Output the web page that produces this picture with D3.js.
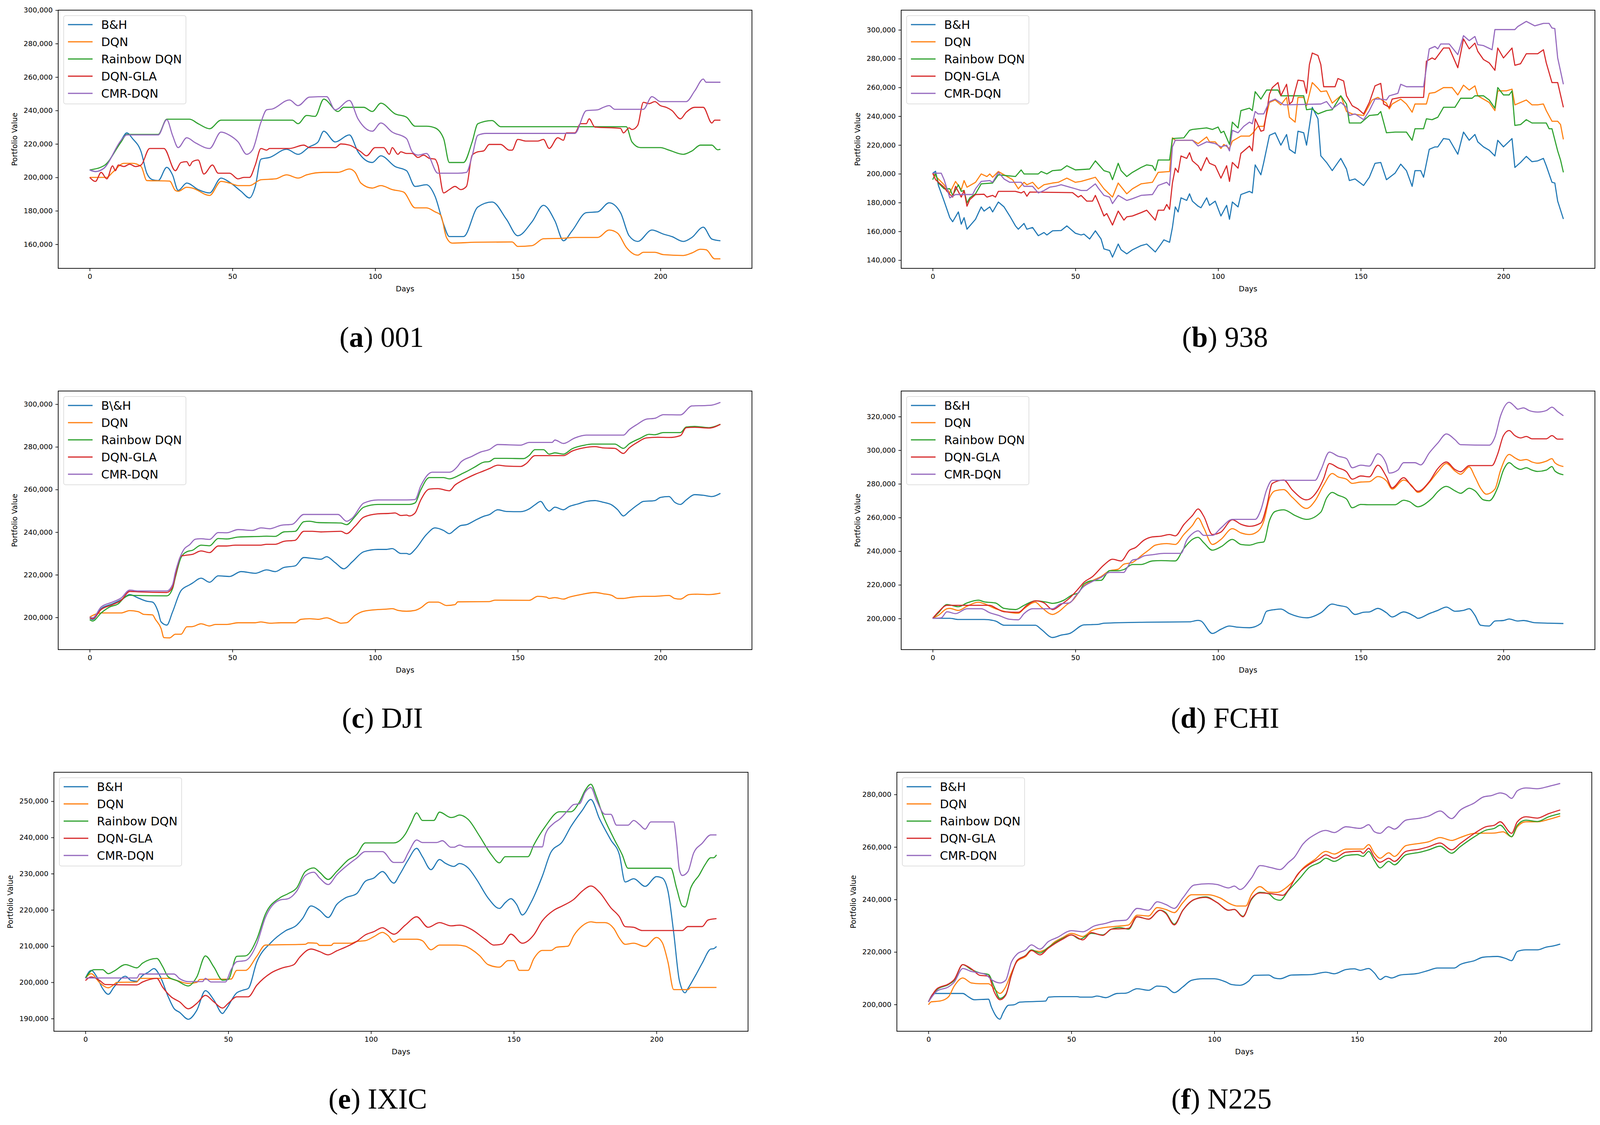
<!DOCTYPE html>
<html>
<head>
<meta charset="utf-8">
<script src="https://cdn.jsdelivr.net/npm/d3@7"></script>
<style>
  body { margin: 0; background: #fff; }
</style>
</head>
<body>
<script>
// series order is the legend order
const seriesNames = ["B&H", "DQN", "Rainbow DQN", "DQN-GLA", "CMR-DQN"];
const seriesNamesDJI = ["B\\&H", "DQN", "Rainbow DQN", "DQN-GLA", "CMR-DQN"];
const colors = ["#1f77b4", "#ff7f0e", "#2ca02c", "#d62728", "#9467bd"];
const xTicks = [0, 50, 100, 150, 200];

// values are [day, portfolio value in thousands]
// (a) 001
const a_bh = [[0,204.5],[2,203.5],[5,205.5],[8,213.3],[11,222.2],[13,226.6],[15,223.2],[18,215.3],[20,202.5],[22,198.6],[24,198.1],[27,206],[29,201.5],[31,192.2],[34,196.6],[38,192.7],[42,190.7],[46,199.6],[49,197.1],[53,191.7],[56,187.7],[58,194.6],[60,210.9],[63,211.9],[69,216.8],[73,213.8],[77,218.3],[80,221.2],[82,227.6],[86,221.2],[91,225.4],[94,215.3],[99,208.9],[102,212.9],[107,206.5],[111,204],[114,194.6],[118,195.6],[121,188.7],[124,172],[126,164.6],[131,164.6],[136,182.3],[141,185.3],[146,175],[150,165.1],[155,173.5],[159,183.3],[163,174],[166,162.1],[169,168],[174,178.9],[178,179.4],[182,184.8],[186,178.9],[189,165.1],[192,161.7],[197,168.5],[201,166.1],[204,164.6],[208,161.7],[211,164.1],[215,170.2],[218,163.1],[221,162.1]];
const a_dqn = [[0,200],[6,200],[8,203],[12,208.4],[15,208.4],[18,206.5],[20,198.1],[28,197.8],[30,192.2],[31,191.7],[34,194.1],[36,193.6],[42,189.2],[46,197.6],[49,196.6],[52,195.1],[56,195.1],[60,198.6],[65,199.1],[69,201.5],[73,199.6],[76,201.5],[82,203],[87,203],[91,205],[93,203],[95,196.6],[99,193.6],[102,195.1],[106,192.7],[110,191.2],[114,181.8],[118,181.8],[121,179.4],[123,177.4],[125,164.1],[127,160.7],[135,161.2],[148,161.4],[150,158.7],[155,159.2],[159,163.3],[166,163.6],[170,164.1],[178,164.1],[182,168.5],[185,166.6],[188,158.2],[192,153.5],[194,155.2],[198,155.2],[201,153.8],[208,153.3],[211,154.8],[214,157],[216,156.7],[219,151.3],[221,151.3]];
const a_rb = [[0,204.5],[5,207],[11,221.2],[13,225.7],[24,225.7],[27,234.8],[35,234.8],[38,232.1],[42,229.1],[46,234.2],[71,234.2],[73,232.1],[76,237],[79,236.5],[82,246.8],[87,239.4],[89,241.9],[96,241.9],[99,239.4],[102,244.4],[107,238],[111,236],[114,230.6],[118,230.6],[121,229.6],[124,223.2],[126,208.9],[131,208.9],[134,221.2],[136,232.1],[141,234],[144,230.3],[188,230.3],[190,221.2],[193,217.8],[200,217.8],[203,216.3],[208,213.8],[211,215.8],[214,219.3],[218,219.3],[220,216.5],[221,216.8]];
const a_gla = [[0,200],[2,197.6],[4,203],[6,199.1],[8,206.9],[9,204],[10,207.4],[12,206.5],[14,207.9],[16,206.5],[18,207.4],[21,217.3],[26,217.3],[30,204],[32,208.9],[34,209.4],[35,206.9],[36,209.4],[38,210.4],[40,202],[43,207.4],[45,202.5],[49,202.5],[52,199.1],[54,200],[56,200],[58,207.4],[60,217.3],[62,216.3],[63,217.3],[70,217.3],[75,219.3],[77,217.8],[86,217.8],[88,220],[91,219.3],[95,215.3],[97,212.9],[100,217.8],[103,217.8],[105,213.8],[106,217.8],[108,213.8],[109,215.3],[111,214.3],[113,214.3],[115,211.9],[117,213.3],[119,211.4],[121,210.9],[122,207.4],[124,190.7],[126,192.7],[128,194.6],[130,192.7],[132,194.6],[134,213.3],[136,215.3],[138,215.8],[140,219.7],[144,219.7],[147,216.3],[148,216.3],[150,222.7],[153,221.7],[157,221.7],[159,222.7],[161,217.3],[164,223.7],[166,222.2],[167,226.6],[170,226.6],[172,232.1],[174,232.1],[175,235],[177,230.1],[186,229.3],[187,226.6],[189,229.6],[190,228.6],[192,231.1],[194,244.9],[196,244.1],[198,245.3],[200,242.9],[202,241.9],[204,240],[207,235],[209,238.9],[212,241.9],[215,241.9],[218,232.5],[219,234.2],[221,234.2]];
const a_cmr = [[0,204.5],[2,203.5],[5,205.5],[11,222.2],[13,225.4],[24,225.4],[27,234.5],[29,225.2],[31,217.8],[34,223.7],[37,220.7],[42,217.3],[46,227.1],[49,225.2],[52,221.2],[55,213.8],[57,216.3],[60,233],[62,240.4],[64,240.9],[70,246.3],[73,242.9],[77,248],[83,248.3],[86,240.4],[91,246],[94,235],[99,227.6],[102,232.5],[106,227.1],[111,223.2],[113,215.3],[115,213.3],[118,214.3],[122,202.5],[129,202.5],[132,203],[134,212.9],[136,225.2],[139,226.3],[170,226.3],[174,239.9],[178,240.4],[180,241.9],[182,242.9],[184,240.7],[194,240.7],[197,248.3],[200,245.3],[209,245.3],[212,251.7],[215,258.8],[216,256.9],[221,256.9]];
const a_yTicks = [160, 180, 200, 220, 240, 260, 280, 300];

// (b) 938
const b_bh = [[0,200.4],[1,201.8],[2,191.9],[4,181],[6,169.5],[7,166.7],[9,173.5],[10,165],[11,169.5],[12,161.5],[15,168.4],[17,177],[18,174.1],[20,177],[21,173.5],[23,180.4],[25,177],[27,170.7],[29,163.8],[30,161.5],[32,165.5],[33,161.5],[35,162.7],[37,157],[39,159.2],[40,157.5],[42,160.4],[45,160.6],[47,163.8],[50,158.7],[52,157.5],[53,158.1],[55,154.7],[57,160.4],[59,154.7],[60,147.8],[62,146.7],[63,142.1],[65,151.2],[66,147.2],[68,144.4],[70,147.2],[73,150.1],[75,151.2],[78,145.7],[80,151.2],[81,154.1],[83,152.4],[84,162.7],[85,177],[86,173.5],[87,183.3],[89,181.5],[90,186.1],[91,181],[93,177.5],[94,176.4],[96,183.3],[97,178.1],[99,181],[101,170.7],[103,178.1],[104,168.4],[105,180.4],[107,177],[108,185.6],[111,187.8],[112,186.7],[113,206.2],[115,199.3],[116,207.9],[118,226.7],[120,228.5],[122,219.9],[124,227.3],[125,217],[127,214.2],[128,229.6],[130,228.5],[131,219.9],[133,246.2],[135,238.2],[136,212.5],[138,207.9],[140,202.2],[143,210.7],[145,203.3],[146,195.3],[148,196.4],[151,191.9],[153,197.6],[155,207.3],[157,207.9],[159,195.9],[162,200.4],[164,206.7],[166,202.2],[168,191.3],[169,202.2],[171,202.2],[172,197.6],[174,217],[176,218.7],[177,218.7],[179,224.5],[181,223.9],[184,213.6],[186,229],[188,223.3],[190,227.3],[191,222.2],[193,218.7],[195,216.4],[197,212.4],[198,223.3],[200,218.7],[203,224.5],[204,204.4],[206,207.9],[208,212.1],[210,208.4],[212,209],[214,210.7],[215,205.6],[217,194.1],[218,193.6],[219,181],[221,168.6]];
const b_dqn = [[0,200.4],[4,192.4],[6,186.7],[8,194.7],[10,189],[11,195.3],[12,190.7],[15,194.1],[17,199.9],[19,198.1],[20,199.9],[21,197.6],[23,201.6],[25,199.3],[28,195.9],[30,189.6],[32,194.1],[33,192.4],[35,194.1],[37,189.6],[39,192.4],[42,193.6],[44,194.1],[47,197],[50,194.1],[52,194.7],[56,197],[57,197.6],[60,189.6],[63,183.8],[65,193.6],[68,186.1],[70,189.6],[73,193],[77,194.1],[79,201],[83,201.6],[84,225],[85,223.3],[91,223.3],[93,221],[96,225.6],[97,222.2],[99,222.2],[101,217.6],[102,220.4],[104,217.6],[105,222.7],[108,226.2],[111,226.2],[112,227.9],[114,233],[116,233],[118,249.6],[120,251.3],[122,247.9],[124,253.1],[125,239.3],[127,235.9],[128,253.1],[130,253.1],[131,247.3],[133,263.4],[135,259.4],[136,257.1],[138,257.6],[140,249.1],[143,254.2],[145,243.3],[147,241.6],[151,240.5],[154,251.3],[156,253.1],[159,249.1],[160,245.1],[161,248.5],[164,251.9],[166,248.5],[168,242.8],[169,248.5],[173,248.5],[174,255.9],[176,256.5],[179,259.9],[182,259.9],[184,254.8],[186,261.6],[188,258.2],[190,261.1],[191,254.2],[193,251.9],[195,249.6],[197,243.9],[198,257.6],[201,257.6],[203,258.8],[204,247.9],[206,249.6],[208,251.3],[210,247.9],[212,247.9],[214,248.5],[215,243.9],[217,236.5],[219,236.5],[220,234.2],[221,223.9]];
const b_rb = [[0,195.9],[1,200.4],[2,193.6],[4,189.6],[6,189.6],[7,185],[9,192.4],[10,187.8],[11,188.4],[12,179.8],[13,183.3],[15,186.1],[17,193],[21,193.6],[23,199.3],[29,198.1],[31,202.7],[32,199.9],[37,199.9],[38,201.6],[40,199.9],[42,202.2],[45,202.7],[47,205.6],[50,202.7],[55,203.3],[57,209],[58,206.7],[60,202.2],[62,201],[63,195.9],[65,207.3],[66,202.2],[68,198.1],[70,201],[73,204.4],[75,206.2],[77,205.6],[78,202.2],[79,209.6],[83,209.6],[84,224.5],[88,225],[90,230.2],[91,230.8],[96,231.9],[98,230.8],[100,232.5],[101,228.5],[102,229.6],[104,220.4],[105,235.9],[107,231.9],[108,243.9],[111,245.6],[112,243.9],[113,257.1],[115,251.9],[117,258.2],[121,258.2],[122,254.2],[130,254.2],[131,244.5],[133,245.1],[135,241.6],[138,243.9],[140,244.5],[143,254.2],[145,248.5],[146,235.3],[150,235.3],[153,240.5],[156,241.1],[157,243.3],[159,228.5],[162,229],[166,229],[168,223.3],[169,231.3],[172,231.3],[173,238.2],[175,237.6],[177,239.3],[179,246.2],[183,246.2],[185,252.5],[189,252.5],[190,254.2],[193,254.2],[195,251.3],[197,245.6],[198,259.9],[200,254.8],[202,254.8],[203,257.6],[204,233.6],[206,234.2],[208,237.6],[210,235.3],[215,235.3],[216,231.3],[217,231.3],[219,215.9],[220,209.6],[221,201]];
const b_gla = [[0,200.4],[1,195.9],[4,190.7],[5,187.8],[7,183.8],[8,191.3],[10,183.8],[11,188.4],[12,177.5],[13,182.1],[15,185.6],[18,185.8],[19,183.8],[21,185],[22,183.8],[23,187.8],[29,187.8],[31,186.7],[32,187.8],[33,184.4],[34,187.3],[49,186.9],[51,183.8],[52,185],[54,181],[56,181],[57,185],[58,180.4],[60,170.7],[61,172.4],[63,164.4],[65,174.1],[67,167.8],[68,170.1],[70,170.7],[73,173],[75,174.7],[78,167.8],[79,174.7],[81,174.7],[82,178.7],[83,175.3],[84,193.6],[85,203.9],[86,201],[87,212.4],[89,210.7],[90,214.7],[91,209],[93,205.6],[94,202.2],[96,211.3],[97,207.3],[99,205.6],[101,197],[103,205.6],[104,194.7],[105,207.9],[107,203.9],[108,214.2],[111,219.3],[112,215.9],[113,238.2],[115,229.6],[116,230.2],[118,255.3],[119,259.9],[121,263.4],[122,254.2],[124,262.2],[125,248.5],[126,250.2],[128,265.1],[130,264.5],[131,255.9],[132,275.9],[133,283.9],[135,282.2],[136,275.9],[137,260.5],[141,260.5],[142,266.2],[144,264.5],[145,254.2],[147,247.3],[149,245.1],[151,241.6],[153,249.6],[155,261.1],[157,262.8],[158,248.5],[160,246.2],[161,251.9],[164,253.1],[172,253.1],[173,278.2],[175,280.5],[176,279.4],[179,287.4],[181,287.4],[184,273.7],[186,293.7],[188,286.8],[190,290.8],[191,285.1],[193,279.4],[195,277.1],[197,271.9],[198,287.4],[200,280.5],[203,287.4],[204,275.4],[206,276.5],[208,283.4],[212,283.4],[214,286.2],[215,277.1],[217,263.4],[219,263.4],[221,246.2]];
const b_cmr = [[0,200.4],[3,200.4],[4,195.9],[6,183.3],[8,185.6],[14,185.6],[15,189.6],[17,194.7],[20,195.3],[21,194.1],[23,201],[25,196.4],[27,194.1],[31,194.1],[32,191.3],[35,191.3],[37,186.7],[39,188.4],[41,190.7],[43,191.3],[45,192.4],[48,190.7],[50,189.6],[52,188.4],[54,188.4],[57,193],[58,190.1],[60,185],[62,183.8],[63,179.3],[65,185],[68,181.5],[70,182.7],[73,185],[77,185.6],[79,191.9],[82,194.1],[83,191.9],[84,218.7],[85,223.3],[91,223.3],[93,219.3],[96,222.2],[99,221],[101,218.7],[103,219.9],[104,215.9],[105,230.2],[107,228.5],[109,233],[111,235.9],[112,234.8],[113,243.3],[114,241.6],[116,241.6],[118,250.2],[120,251.9],[123,247.9],[136,248.5],[138,250.2],[140,245.1],[143,249.6],[145,246.2],[146,240.5],[148,241.6],[151,237.6],[153,243.9],[155,251.9],[157,251.9],[159,251.3],[160,254.2],[162,255.3],[163,255.9],[164,262.2],[166,260.5],[172,260.5],[174,286.8],[176,288.5],[177,286.8],[178,290.2],[181,290.2],[184,282.8],[186,296],[188,292.5],[190,295.4],[191,289.7],[193,289.1],[196,286.2],[197,300.2],[204,300.2],[205,302.3],[208,305.9],[211,302.8],[214,304.5],[216,304.5],[217,301.3],[218,300.9],[219,280.5],[221,262.2]];
const b_yTicks = [140, 160, 180, 200, 220, 240, 260, 280, 300];

// (c) DJI
const c_bh = [[0,199.8],[1,199],[4,204.1],[8,206.4],[11,208.3],[14,210.7],[17,209.1],[20,207.6],[22,207.2],[24,202.5],[25,197.9],[27,196.4],[29,202.5],[32,212.6],[35,215.3],[36,216.1],[39,218.4],[42,216.5],[45,219.5],[49,219.2],[53,221.5],[58,220.7],[62,222.3],[65,221.5],[68,223.4],[72,224.2],[75,228.1],[78,227.7],[81,227.3],[83,228.5],[86,225.7],[89,222.8],[92,226.1],[96,230.8],[101,231.9],[104,231.9],[106,232.3],[109,230],[111,230],[112,229.6],[114,231.9],[118,238.9],[121,242],[124,240.8],[126,239.3],[128,241.2],[130,243.1],[132,243.5],[135,245.5],[138,247.4],[140,248.2],[143,250.5],[146,249.7],[151,249.6],[154,250.9],[156,252.8],[158,254.4],[160,250.9],[161,249.9],[163,251.7],[166,250.5],[168,252],[171,253.2],[174,254.4],[177,254.8],[180,254],[183,252.7],[185,250.5],[187,247.6],[189,249.7],[192,252.8],[194,254.4],[198,254.8],[200,256.3],[203,256.7],[205,254],[207,253],[209,255.1],[212,257.6],[215,257.3],[218,256.7],[221,258.2]];
const c_dqn = [[0,200.2],[4,202.1],[11,202.1],[14,203.2],[17,202.7],[19,201.4],[22,201.2],[23,199.1],[25,194.8],[26,190.5],[28,190.4],[30,192.1],[32,192.1],[34,195.6],[36,195.7],[39,197],[42,196],[44,196.7],[48,196.7],[52,197.5],[58,197.5],[60,197.9],[63,197.3],[67,197.5],[72,197.5],[74,199.1],[77,199.4],[80,199.1],[83,199.8],[86,198.3],[88,197.3],[90,197.5],[93,201],[96,202.9],[101,203.7],[104,203.9],[106,204.1],[108,203.3],[111,202.9],[114,203.3],[116,204.5],[119,207.2],[122,207.2],[125,205.6],[128,206],[129,207.3],[140,207.4],[142,208.1],[154,208],[157,209.9],[160,209.5],[161,208.9],[163,209.3],[166,208.6],[168,209.5],[172,210.7],[177,211.7],[180,211.1],[183,210.3],[185,208.9],[187,208.9],[190,209.5],[194,209.9],[198,209.9],[203,210.3],[205,208.9],[207,208.6],[210,210.7],[213,210.9],[217,210.7],[221,211.4]];
const c_rb = [[0,199],[1,198.3],[4,202.1],[7,204.9],[10,206.4],[12,209.1],[14,210.4],[16,210.3],[27,210.1],[29,213.4],[30,218.8],[32,228.1],[34,230.8],[36,231.5],[39,233.9],[42,233.6],[45,237],[48,236.8],[52,237.7],[60,238],[62,238.1],[65,238],[68,240.1],[72,240.4],[75,244.9],[77,245.1],[80,244.5],[88,244.3],[90,243.5],[93,247.4],[96,251.7],[101,253],[112,253],[114,253.7],[116,259.8],[119,265.6],[124,265.6],[126,265],[129,266.4],[130,267.1],[132,268.4],[135,270.6],[138,272.8],[140,273.1],[142,274.6],[146,274.6],[152,274.5],[154,276],[156,278.7],[159,278.7],[161,276.6],[163,277.2],[166,276.6],[169,279.1],[173,280.7],[176,281.3],[184,281.3],[187,279.3],[189,281.4],[193,284.1],[196,285.9],[198,285.7],[201,286.7],[207,286.7],[209,289.3],[212,289.6],[217,289],[221,290.6]];
const c_gla = [[0,199.8],[1,199.4],[4,203.7],[8,206],[11,208],[14,212.2],[17,212],[27,211.7],[29,214.1],[30,219.6],[32,228.8],[34,229.2],[36,229.6],[39,231.2],[42,230.4],[45,233.5],[48,233.5],[51,233.9],[60,233.9],[62,234.3],[65,234.3],[68,235.7],[72,236.2],[75,240.4],[78,240.4],[81,240.1],[88,240.4],[90,239.3],[93,242.8],[96,247],[101,248.6],[105,248.8],[107,249],[109,247.8],[111,248],[112,247.6],[114,249],[116,255.1],[119,260.2],[122,260.4],[126,259.4],[128,262.1],[130,263.8],[132,265.2],[135,267.1],[138,268.7],[140,269.8],[143,271.4],[146,271],[151,270.8],[153,272.2],[156,275.9],[166,275.9],[169,278],[173,279.5],[177,280.1],[180,279.5],[184,279.3],[187,276.9],[189,279.5],[192,282.2],[195,284.2],[199,284.5],[203,284.4],[207,285.3],[209,289],[212,289.2],[217,288.8],[221,290.6]];
const c_cmr = [[0,200.2],[1,199.8],[4,204.9],[8,207.2],[11,209.1],[14,212.8],[17,212.4],[27,212.4],[29,215.3],[30,221.1],[33,231.9],[35,234.1],[37,236.7],[39,236.9],[42,236.6],[45,239.8],[48,239.7],[52,241.2],[57,240.8],[60,242],[63,241.6],[67,243.2],[71,243.7],[75,248.3],[87,248.3],[90,245.1],[92,246.6],[96,253.6],[101,255.1],[111,255.1],[114,255.3],[116,261.7],[120,268.1],[126,268.1],[129,271],[130,272.8],[134,275.6],[137,277.6],[140,278.7],[143,281.1],[151,280.8],[154,282.1],[162,282.1],[163,283.2],[166,281.6],[170,284.2],[174,285.5],[187,285.5],[189,288],[192,290.7],[195,293],[198,293.4],[201,295.1],[207,295],[211,299.2],[216,299.4],[218,299.6],[221,300.9]];
const c_yTicks = [200, 220, 240, 260, 280, 300];

// (d) FCHI
const d_bh = [[0,200.1],[6,200.1],[9,199.4],[18,199.4],[22,198.5],[25,196],[36,196],[38,193.6],[42,188.7],[45,190.1],[48,191.1],[53,196.2],[58,196.5],[60,197.2],[75,197.8],[90,198],[93,198.9],[94,198.5],[98,191.1],[101,193.6],[104,195.5],[107,194.8],[111,194.5],[115,197],[117,204.3],[120,205.3],[122,205.6],[125,202.9],[131,200.4],[136,203.4],[140,208.6],[142,207.8],[145,206.8],[148,202.4],[151,203.7],[153,203.9],[156,206],[159,203.4],[161,200.9],[165,203.9],[169,201.1],[170,200.1],[174,202.9],[177,204.8],[180,206.8],[183,204.3],[186,204.8],[188,205.8],[190,201.9],[192,196],[195,195.5],[197,198.5],[200,198.8],[202,199.7],[205,198.5],[207,198.8],[211,197.5],[216,197.2],[221,197]];
const d_dqn = [[0,200.1],[2,201.9],[5,205.8],[6,206],[9,204.8],[12,207.3],[16,209.7],[18,208.8],[22,205.8],[26,203.9],[30,203.1],[32,205.8],[36,209.7],[38,206.8],[42,202.4],[44,203.9],[47,208.2],[49,210.7],[53,219.5],[56,222.5],[59,224.9],[62,228.4],[65,229.3],[67,232.3],[70,233.3],[73,237.2],[76,241.1],[78,243.6],[82,244.5],[85,244],[88,249.9],[91,255.3],[93,259.7],[95,253.8],[98,244],[101,247],[105,253.4],[108,250.9],[111,249.9],[114,251.9],[116,257.8],[118,271.5],[120,275.9],[123,276.6],[126,272],[131,265.4],[134,270],[137,279.3],[140,286.2],[142,284.2],[145,282.8],[147,280.3],[150,281.1],[153,281.3],[156,284.4],[159,281.8],[161,276.9],[165,282.3],[168,278.8],[170,274.9],[174,280.8],[177,287.2],[180,292.1],[183,287.7],[185,285.7],[188,290.1],[190,284.2],[192,277.4],[194,273.9],[197,276.9],[199,288.2],[202,297.5],[204,295.5],[206,294],[208,294.5],[210,293],[212,292.3],[215,293.5],[217,295],[218,292.6],[221,290.3]];
const d_rb = [[0,200.1],[2,203.4],[5,208.3],[9,207],[12,209.2],[16,210.9],[18,209.9],[22,209.2],[25,206],[29,205.3],[32,207.8],[36,210.5],[40,209.7],[42,209],[46,210.9],[49,214.1],[51,215.1],[53,220.5],[56,222.5],[59,222.7],[62,228.4],[65,228.4],[67,229.1],[70,232.1],[73,232.1],[77,234.2],[80,234.4],[85,234.2],[88,241.6],[91,247],[93,248.2],[95,245],[98,240.6],[101,242.6],[105,247],[108,244],[111,243.6],[114,245],[116,245.5],[118,258.2],[120,263.6],[123,264.6],[127,261.2],[131,258.9],[136,263.2],[138,271.5],[140,274.9],[142,273.3],[145,271],[147,265.8],[150,267.8],[153,267.6],[162,267.6],[165,270.3],[167,269.5],[170,266.4],[174,270],[175,271.5],[177,275.4],[180,278.5],[183,275.9],[185,274.4],[188,277.4],[190,275.9],[193,270.5],[195,270],[198,277.9],[200,288.2],[202,292.6],[204,290.1],[206,288.6],[208,289.6],[210,288.2],[212,287.4],[215,288.2],[217,290.3],[218,287.7],[221,285.4]];
const d_gla = [[0,200.1],[2,203.9],[5,207.8],[20,207.8],[22,206.3],[25,204],[30,203.7],[33,207.8],[36,210.5],[39,209.3],[42,205.3],[45,208.3],[48,212.2],[51,217.6],[53,221.5],[56,224.9],[60,231.8],[63,235.2],[66,234.2],[69,240.6],[71,242.1],[74,246.5],[77,248.5],[80,248.9],[83,249.9],[85,249.1],[88,255.8],[91,261.2],[93,265.1],[95,260.7],[98,249.9],[101,251.4],[105,258.7],[108,256],[111,254.8],[115,256.8],[117,266.6],[119,280.3],[123,282.3],[126,276.4],[131,270.5],[135,276.4],[137,283.2],[139,292.1],[142,289.6],[145,287.2],[147,282.8],[150,284.7],[153,284.2],[156,291.1],[159,284.2],[161,277.6],[165,283.7],[168,278.3],[170,275.6],[174,281.3],[177,289.1],[180,293],[183,288.6],[185,287.2],[188,290.9],[196,290.9],[198,297.9],[200,308.7],[202,311.7],[204,308.7],[206,307.3],[208,308.2],[210,306.8],[215,306.8],[217,308.7],[219,306.6],[221,306.6]];
const d_cmr = [[0,200.1],[3,200.4],[5,204],[8,202.9],[12,205.8],[17,205.8],[20,203.4],[23,201.9],[27,199.5],[30,199.2],[32,202.9],[35,205.8],[42,205.8],[45,208.8],[48,209.3],[50,213.2],[53,219.1],[56,222],[59,224.4],[62,227.4],[67,227.4],[68,229.8],[70,234.7],[72,235.4],[74,237.2],[77,237.9],[81,238.7],[87,238.7],[89,246.5],[91,250.4],[93,252.1],[95,249.4],[98,249.4],[101,253.8],[105,258.9],[113,258.9],[115,264.6],[117,276.4],[119,282.1],[134,282.1],[136,288.2],[139,298.9],[142,296.5],[145,295],[147,289.6],[150,291.1],[153,290.6],[156,297.9],[159,291.6],[160,286.4],[163,288.2],[165,292.6],[169,292.6],[171,291.3],[174,298.4],[177,304.3],[180,309.7],[183,306.3],[185,303.3],[195,303],[197,307.8],[199,320.5],[202,328.5],[204,325.9],[205,324.4],[207,325.2],[209,323.6],[212,322.7],[215,323.6],[217,325.6],[219,322.9],[221,320.5]];
const d_yTicks = [200, 220, 240, 260, 280, 300, 320];

// (e) IXIC
const e_bh = [[0,201.2],[2,203.3],[4,201.5],[6,198.3],[8,196.7],[10,198.7],[14,201.7],[16,200.5],[18,200.3],[20,201.9],[22,202.8],[24,203.8],[26,201.9],[29,196],[31,192.8],[33,191.7],[36,189.8],[39,192.3],[42,197.7],[45,195.1],[48,191.4],[49,192.3],[53,197.1],[55,197.8],[57,198.3],[60,205.6],[65,211],[70,214.2],[74,215.8],[76,217.6],[79,221.1],[82,219.9],[85,217.9],[88,221.5],[91,223.3],[95,224.5],[98,227.9],[101,228.8],[104,230.6],[108,227.4],[110,229.7],[113,233.8],[116,237],[118,234.7],[121,231.1],[124,233.9],[126,232.9],[129,232],[131,232.8],[134,231.6],[137,228.4],[141,223.3],[145,220.4],[147,222],[149,223.1],[151,221.5],[153,218.6],[156,222],[160,229.3],[163,235.9],[167,238.8],[170,243],[174,247.5],[177,250.5],[180,245.2],[184,239.3],[187,235.2],[189,227.7],[192,228.6],[196,226.5],[200,229.2],[202,228.8],[204,225.2],[206,213.8],[208,200.5],[210,197.1],[211,198.3],[214,202.4],[216,205.3],[219,209.2],[220,209.3],[221,209.9]];
const e_dqn = [[0,201.2],[2,202.4],[5,199.9],[8,198.5],[10,199.4],[11,200],[18,200.1],[19,201.1],[29,201.1],[32,200.5],[36,199.7],[39,200],[40,200.8],[51,200.9],[53,203.3],[56,203.3],[60,207.2],[63,210.3],[77,210.5],[78,210.9],[81,210.8],[82,210.2],[86,210.2],[87,210.8],[93,210.8],[95,211.3],[98,211.5],[101,212.6],[104,213.8],[106,212.9],[108,211.1],[110,211.9],[116,211.9],[118,211.5],[121,209],[124,210.3],[130,210.3],[133,210],[135,209.2],[138,207.4],[141,204.9],[145,204.2],[148,206],[150,206],[152,203.3],[155,203.3],[157,206.5],[160,208.8],[163,208.8],[165,209.7],[169,210],[171,212.9],[174,215.6],[177,216.7],[179,216.5],[182,216.5],[185,214.9],[187,212.2],[189,210.5],[192,210.8],[196,209.9],[200,212.4],[202,211],[204,205.6],[206,198],[211,198],[212,198.6],[221,198.6]];
const e_rb = [[0,201.2],[3,203.5],[6,203.5],[8,202.4],[10,203.1],[14,204.9],[18,204],[20,205.3],[25,206.6],[27,204.4],[29,201.5],[32,200.5],[36,199],[39,201.5],[42,207.3],[45,204.2],[48,200.6],[50,200.8],[53,207.2],[56,207.3],[60,211.9],[63,218.8],[68,223.3],[71,224.5],[74,226.1],[77,230.6],[80,231.6],[82,230.4],[85,228.4],[88,230.6],[92,233.8],[95,235.3],[98,238.5],[108,238.5],[112,240.9],[114,243.9],[116,246.8],[118,244.7],[122,244.7],[124,247],[128,245.5],[129,245.6],[131,246.2],[134,245],[138,240.4],[142,235.4],[145,233],[147,234.7],[155,234.7],[157,237.9],[161,243],[166,247.1],[170,247.1],[173,249.8],[175,253],[177,254.7],[179,251.2],[181,246.6],[185,239.8],[188,235.2],[190,231.5],[205,231.5],[207,226.1],[209,221.1],[210,220.8],[212,226.1],[215,229.7],[217,232.5],[219,234.4],[220,234.4],[221,235.2]];
const e_gla = [[0,200.5],[2,201.5],[5,200.5],[7,199.4],[18,199.3],[20,200.1],[25,201.1],[27,198.7],[30,196],[33,194.6],[36,192.7],[39,194.2],[42,196.4],[45,194.6],[48,192.9],[50,194.2],[53,196],[57,196],[60,199.2],[65,202.6],[69,204],[73,204.9],[75,206.9],[79,209.2],[82,208.5],[85,207.6],[88,208.7],[91,209.7],[95,211.3],[98,213.1],[101,214],[104,215.1],[108,213.3],[112,215.8],[116,218.1],[120,215.2],[124,216.5],[128,215.6],[131,215.8],[135,214.7],[140,211.9],[143,210.3],[146,210.6],[149,213.3],[153,210.8],[157,213.1],[160,217],[164,219.9],[167,221.1],[171,222.9],[174,225.2],[177,226.6],[180,224.9],[184,220.6],[187,218.1],[189,215.4],[192,215.2],[195,214.3],[209,214.3],[211,215.4],[216,215.4],[218,217.2],[221,217.6]];
const e_cmr = [[0,201.2],[18,201.2],[19,202.3],[31,202.3],[33,201],[36,200.2],[41,200.2],[42,201.1],[44,200.1],[49,200.1],[51,203.5],[53,205.7],[56,206],[60,210.6],[63,217.9],[68,222.7],[71,223.1],[74,225.2],[77,229.5],[80,230.4],[82,228.8],[85,227],[88,229.7],[92,232.5],[95,234.3],[98,236.1],[104,236.1],[108,233.1],[111,233.1],[113,235.7],[116,239.3],[118,238.6],[123,238.6],[125,239.1],[128,237.3],[129,237.3],[131,237.9],[133,237.4],[160,237.4],[161,240.7],[164,243.9],[166,245],[169,247.5],[171,249.1],[173,249.3],[175,252.5],[177,253.8],[179,250.2],[182,246.4],[184,246.4],[186,243.4],[190,243.4],[192,244.7],[194,243.6],[196,242.3],[198,244.3],[206,244.3],[207,238.8],[208,231.1],[209,229.5],[211,230.6],[213,235.7],[216,238.4],[219,240.7],[221,240.7]];
const e_yTicks = [190, 200, 210, 220, 230, 240, 250];

// (f) N225
const f_bh = [[0,201],[2,204.2],[12,204.2],[14,202.9],[16,201.8],[21,202],[22,199.1],[25,194.4],[26,196.6],[28,199.7],[30,199.9],[32,200.9],[41,201.3],[42,202.8],[46,203],[52,203],[53,202.8],[57,202.8],[59,203.2],[62,202.6],[66,204.2],[69,204.3],[73,206],[77,205.4],[80,207],[83,206.7],[86,204.5],[89,206.7],[92,209.2],[96,209.8],[100,209.8],[104,208.6],[106,207.6],[109,207.3],[112,208.9],[114,211.1],[119,211.2],[121,210.1],[123,209.8],[127,211.2],[134,211.4],[139,212.3],[142,211.7],[146,213.3],[149,213.6],[151,213],[154,213.7],[156,212],[158,209.5],[160,210.7],[162,210.1],[165,211.2],[171,211.8],[175,213],[178,213.9],[184,213.9],[186,215.2],[191,216.7],[194,218],[199,218.3],[202,217.5],[204,216.7],[206,220.2],[209,220.8],[213,220.8],[216,221.8],[219,222.4],[221,223]];
const f_dqn = [[0,199.9],[1,201],[4,201.3],[7,202.9],[9,207],[12,210.1],[15,208.2],[18,207.9],[21,207.9],[23,206],[25,204.2],[27,206.7],[29,212],[31,216.4],[34,218.3],[36,220.5],[39,220.2],[42,221.8],[44,223.7],[47,225.5],[50,227.1],[54,225.9],[57,228.1],[61,229.2],[64,229.6],[66,229.8],[70,230.3],[73,234],[77,233.7],[80,236.9],[83,236.2],[86,235],[89,238.8],[92,241.8],[98,241.8],[102,240.6],[106,238.1],[108,237.5],[111,237.5],[113,241.9],[116,244.9],[119,242.8],[122,242.7],[125,244.4],[127,246.3],[131,251.9],[135,255.1],[139,258.3],[142,257.3],[146,259.2],[152,259.2],[154,260.9],[156,257.6],[158,255.7],[161,257.8],[163,256.4],[167,260.5],[172,261.4],[175,262],[179,263.6],[183,262.5],[186,263.6],[191,265.2],[198,265.3],[201,265.8],[204,263.9],[206,267.7],[209,269.6],[213,269.6],[217,270.5],[221,271.8]];
const f_rb = [[0,201],[3,205.7],[7,207.6],[9,209.2],[12,215.2],[15,213.3],[18,212],[21,211.4],[23,206.7],[25,202.3],[27,203.8],[29,211.1],[31,216.7],[34,218.7],[36,220.8],[39,219.6],[42,221.8],[44,223.3],[47,225.2],[50,226.5],[53,224.9],[57,227.1],[61,226.5],[64,228.7],[67,229.3],[70,228.7],[73,233.4],[77,232.5],[81,235.9],[83,235],[86,230.6],[89,235.9],[93,240],[97,241],[101,238.8],[105,235.9],[107,236.2],[110,233.6],[113,240],[116,242.7],[119,242.2],[121,240.3],[123,239.7],[126,243.5],[130,248.2],[133,252],[137,254.2],[139,255.7],[142,254.5],[146,256.7],[150,257.1],[152,256.4],[154,258.3],[156,254.8],[158,252],[161,254.5],[163,253.2],[167,257],[172,258],[175,258.9],[179,260.3],[183,257.6],[186,260.1],[191,263.9],[195,266.4],[198,267.1],[200,268.3],[204,263.9],[206,268.3],[209,270.2],[213,269.7],[217,271.5],[221,272.7]];
const f_gla = [[0,201],[3,206],[7,207.8],[9,209.5],[12,215.2],[15,213.6],[18,211.1],[21,210.8],[23,204.8],[25,201.8],[27,203.5],[29,211.1],[31,216.7],[34,218.6],[36,220.6],[39,218.9],[42,221.5],[44,223],[47,224.9],[50,226.5],[54,224.6],[57,227.4],[61,226.3],[64,228.7],[67,228.8],[70,229],[73,233.4],[77,232.5],[81,235.9],[83,234.7],[86,230.3],[89,235.9],[93,240],[97,240.8],[101,238.8],[105,235.9],[107,236.2],[110,233.4],[113,240.3],[116,242.5],[120,242.2],[124,241.6],[126,243.8],[129,249.4],[133,253.2],[137,255.7],[139,257],[142,255.7],[146,258],[151,258.4],[152,257.6],[154,259.5],[156,256.1],[158,254.2],[161,255.7],[163,254.5],[167,258.3],[172,259.2],[175,260.1],[179,261.5],[183,258.9],[186,261.3],[191,265.2],[195,267.7],[198,268.3],[200,269.6],[204,265.2],[206,269.6],[209,271.5],[213,271],[217,272.7],[221,274.1]];
const f_cmr = [[0,201],[3,205.1],[7,206.7],[9,208.5],[12,213.7],[15,212.6],[18,212],[20,211.4],[22,209.5],[25,208.2],[27,209.2],[29,216.1],[31,219.2],[34,220.8],[36,222.7],[39,221.1],[42,224],[45,225.5],[50,228.1],[54,227.7],[58,229.9],[62,230.9],[65,231.8],[69,232.1],[73,236.6],[77,235.9],[80,239.1],[83,238.1],[86,236.6],[89,240.6],[93,245.5],[98,246],[101,245.7],[105,244.4],[107,245.1],[109,243.8],[113,248.2],[116,252.9],[120,252.1],[123,251.4],[126,254.2],[128,256.1],[131,261.1],[135,264.6],[139,266.3],[142,265.5],[146,267.7],[151,267.1],[152,267.4],[154,268.5],[156,265.8],[158,265.2],[161,267.7],[163,266.8],[167,270.2],[172,271],[175,271.8],[179,273.7],[183,270.8],[186,274],[191,276.8],[194,279],[197,279.6],[200,280.6],[202,280],[204,278.5],[206,281.4],[209,282.5],[213,282.2],[217,283.1],[221,284.2]];
const f_yTicks = [200, 220, 240, 260, 280];

// layout of the six sub-figures (pixels)
const panels = [
  { letter: "a", title: "001",  names: seriesNames,    series: [a_bh, a_dqn, a_rb, a_gla, a_cmr], yTicks: a_yTicks, yDomain: [145.6, 300],   box: [149, 26, 1925, 687],     cap: [977, 888],   smooth: true },
  { letter: "b", title: "938",  names: seriesNames,    series: [b_bh, b_dqn, b_rb, b_gla, b_cmr], yTicks: b_yTicks, yDomain: [134.3, 313.7], box: [2307, 26, 4083, 687],    cap: [3136, 888],  smooth: false },
  { letter: "c", title: "DJI",  names: seriesNamesDJI, series: [c_bh, c_dqn, c_rb, c_gla, c_cmr], yTicks: c_yTicks, yDomain: [184.9, 306.2], box: [149, 1001, 1925, 1663],  cap: [979, 1863],  smooth: true },
  { letter: "d", title: "FCHI", names: seriesNames,    series: [d_bh, d_dqn, d_rb, d_gla, d_cmr], yTicks: d_yTicks, yDomain: [181.5, 335.2], box: [2307, 1001, 4083, 1663], cap: [3136, 1863], smooth: true },
  { letter: "e", title: "IXIC", names: seriesNames,    series: [e_bh, e_dqn, e_rb, e_gla, e_cmr], yTicks: e_yTicks, yDomain: [186.5, 258.0], box: [138, 1977, 1915, 2640],  cap: [967, 2838],  smooth: true },
  { letter: "f", title: "N225", names: seriesNames,    series: [f_bh, f_dqn, f_rb, f_gla, f_cmr], yTicks: f_yTicks, yDomain: [189.8, 288.46], box: [2296, 1977, 4075, 2640], cap: [3127, 2838], smooth: true }
];

const W = 4100, H = 2880;
const svg = d3.select("body").append("svg")
  .attr("width", W)
  .attr("height", H)
  .style("font-family", "'DejaVu Sans', sans-serif");

svg.append("rect").attr("width", W).attr("height", H).attr("fill", "#fff");

const fmt = d3.format(",");

panels.forEach(p => {
  const [x0, y0, x1, y1] = p.box;
  const x = d3.scaleLinear().domain([-11.05, 232.05]).range([x0, x1]);
  const y = d3.scaleLinear().domain(p.yDomain).range([y1, y0]);
  const g = svg.append("g");

  // lines
  const line = d3.line()
    .x(d => x(d[0]))
    .y(d => y(d[1]))
    .curve(p.smooth ? d3.curveMonotoneX : d3.curveLinear);

  p.series.forEach((s, i) => {
    g.append("path")
      .datum(s)
      .attr("d", line)
      .attr("fill", "none")
      .attr("stroke", colors[i])
      .attr("stroke-width", 2.8)
      .attr("stroke-linejoin", "round");
  });

  // axes
  const xAxis = g.append("g")
    .attr("transform", `translate(0,${y1})`)
    .call(d3.axisBottom(x).tickValues(xTicks).tickSize(7).tickPadding(7));
  const yAxis = g.append("g")
    .attr("transform", `translate(${x0},0)`)
    .call(d3.axisLeft(y).tickValues(p.yTicks).tickSize(7).tickPadding(7)
      .tickFormat(d => fmt(d * 1000)));
  [xAxis, yAxis].forEach(a => {
    a.select(".domain").remove();
    a.selectAll(".tick line").attr("stroke", "#000").attr("stroke-width", 1.6);
    a.selectAll(".tick text")
      .attr("fill", "#000")
      .style("font-size", "18px")
      .style("font-family", "'DejaVu Sans', sans-serif");
  });

  // frame
  g.append("rect")
    .attr("x", x0).attr("y", y0)
    .attr("width", x1 - x0).attr("height", y1 - y0)
    .attr("fill", "none")
    .attr("stroke", "#000")
    .attr("stroke-width", 1.8);

  // axis titles
  g.append("text")
    .attr("x", (x0 + x1) / 2)
    .attr("y", y1 + 59)
    .attr("text-anchor", "middle")
    .style("font-size", "19px")
    .text("Days");
  g.append("text")
    .attr("transform", `translate(${x0 - 112},${(y0 + y1) / 2}) rotate(-90)`)
    .attr("text-anchor", "middle")
    .attr("dominant-baseline", "central")
    .style("font-size", "19px")
    .text("Portfolio Value");

  // legend
  const lg = g.append("g").attr("transform", `translate(${x0 + 14},${y0 + 14})`);
  lg.append("rect")
    .attr("width", 313).attr("height", 226)
    .attr("rx", 5)
    .attr("fill", "#fff").attr("fill-opacity", 0.85)
    .attr("stroke", "#d6d6d6").attr("stroke-width", 1.5);
  p.names.forEach((name, i) => {
    const ly = 23 + i * 44;
    lg.append("line")
      .attr("x1", 11).attr("x2", 74)
      .attr("y1", ly).attr("y2", ly)
      .attr("stroke", colors[i]).attr("stroke-width", 3);
    lg.append("text")
      .attr("x", 96).attr("y", ly)
      .attr("dominant-baseline", "central")
      .style("font-size", "30px")
      .text(name);
  });

  // caption
  const cap = svg.append("text")
    .attr("x", p.cap[0]).attr("y", p.cap[1])
    .attr("text-anchor", "middle")
    .style("font-family", "'Liberation Serif', 'DejaVu Serif', serif")
    .style("font-size", "74px");
  cap.append("tspan").text("(");
  cap.append("tspan").style("font-weight", "bold").text(p.letter);
  cap.append("tspan").text(") " + p.title);
});
</script>
</body>
</html>
